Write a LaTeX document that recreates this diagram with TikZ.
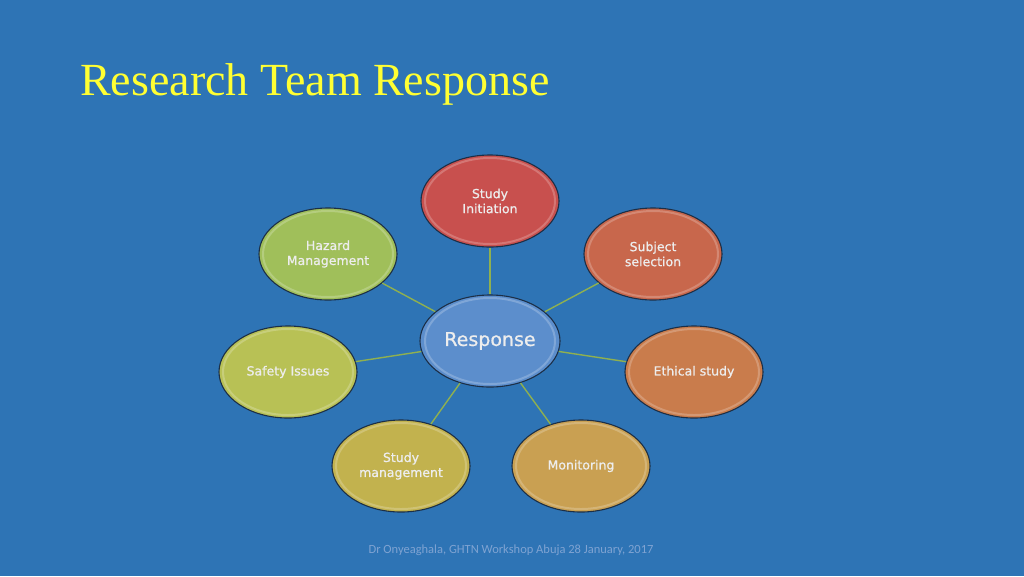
\documentclass[tikz,border=0pt]{standalone}
\usepackage{fontspec}
\setmainfont{Liberation Serif}
\newfontfamily\bubblefont[FakeBold=0.8]{DejaVu Sans}
\newfontfamily\footfont{Carlito}
\usetikzlibrary{shapes.geometric}
\definecolor{bgblue}{HTML}{2E74B5}
\definecolor{titleyellow}{HTML}{FFFF33}
\definecolor{linkgreen}{HTML}{8FB050}
\definecolor{rimdark}{HTML}{1C2F47}
\definecolor{txtlight}{HTML}{EDEDED}
\definecolor{footblue}{HTML}{7FA3D2}
\definecolor{cInit}{HTML}{C8504E}
\definecolor{cSubj}{HTML}{C8674C}
\definecolor{cEth}{HTML}{C97C4C}
\definecolor{cMon}{HTML}{C9A052}
\definecolor{cMan}{HTML}{C2B24E}
\definecolor{cSaf}{HTML}{B8C155}
\definecolor{cHaz}{HTML}{A0BF5A}
\definecolor{cResp}{HTML}{5C8ECC}
\tikzset{
  bubble/.style={ellipse, draw=rimdark, line width=1.1pt, minimum width=138pt,
    minimum height=92pt, inner sep=0pt, align=center, text=txtlight,
    font=\bubblefont\fontsize{12.5}{15}\selectfont,
    path picture={\draw[white, opacity=0.22, line width=2pt]
      (path picture bounding box.center) ellipse [x radius=65pt, y radius=43pt];}},
  link/.style={draw=linkgreen, line width=1.4pt}
}
\begin{document}
\begin{tikzpicture}[x=1pt,y=-1pt]
\fill[bgblue] (0,0) rectangle (1024,576);
\useasboundingbox (0,0) rectangle (1024,576);
\node[anchor=base west, text=titleyellow, font=\fontsize{46}{50}\selectfont, inner sep=0pt]
  (title) at (80,95) {Research Team Response};
\node[bubble, fill=cResp, minimum width=140pt, font=\bubblefont\fontsize{19}{22}\selectfont] (resp) at (490,341) {Response};
\node[bubble, fill=cInit] (init) at (490,201) {Study\\Initiation};
\node[bubble, fill=cSubj] (subj) at (653,254) {Subject\\selection};
\node[bubble, fill=cEth] (eth) at (694,372) {Ethical study};
\node[bubble, fill=cMon] (mon) at (581,466) {Monitoring};
\node[bubble, fill=cMan] (man) at (401,466) {Study\\management};
\node[bubble, fill=cSaf] (saf) at (288,372) {Safety Issues};
\node[bubble, fill=cHaz] (haz) at (328,254) {Hazard\\Management};
\foreach \n in {init,subj,eth,mon,man,saf,haz} { \path[link] (resp) -- (\n); }
\node[text=footblue, font=\footfont\fontsize{12.5}{14}\selectfont, inner sep=0pt] (foot) at (511,550)
  {Dr Onyeaghala, GHTN Workshop Abuja 28 January, 2017};
\end{tikzpicture}
\end{document}
